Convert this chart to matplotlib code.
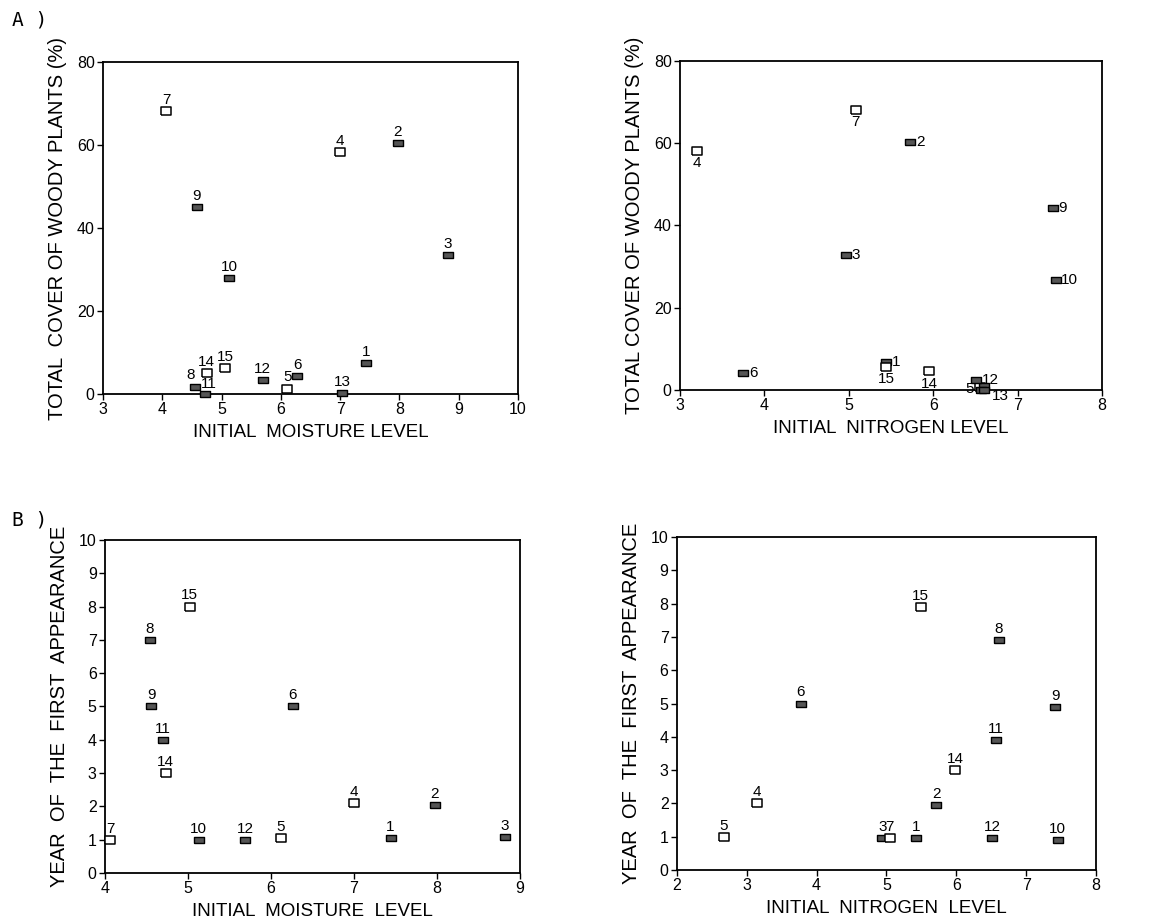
import matplotlib
matplotlib.use("Agg")
import matplotlib.pyplot as plt

plt.rcParams["font.family"] = ["Liberation Sans", "DejaVu Sans"]

# site numbers and whether the marker is open (True) or filled (False)
sites = [1, 2, 3, 4, 5, 6, 7, 8, 9, 10, 11, 12, 13, 14, 15]
open_sites = [4, 5, 7, 14, 15]

# panel A, left: moisture vs cover
moist_a = [7.44, 7.97, 8.82, 7.0, 6.11, 6.28, 4.07, 4.55, 4.58, 5.13, 4.72, 5.69, 7.03, 4.75, 5.06]
cover_a = [7.5, 60.5, 33.5, 58.3, 1.3, 4.3, 68.2, 1.8, 45.0, 28.0, 0.1, 3.4, 0.3, 5.1, 6.3]

# panel A, right: nitrogen vs cover
nitro_a = [5.44, 5.73, 4.97, 3.20, 6.55, 3.75, 5.08, 6.60, 7.42, 7.45, 6.57, 6.51, 6.60, 5.95, 5.44]
cover_n = [6.9, 60.3, 32.8, 58.2, 0.8, 4.1, 68.2, 1.0, 44.3, 26.7, 0.1, 2.4, 0.0, 4.6, 5.7]

# panel B (site 13 never appeared)
sites_b = [1, 2, 3, 4, 5, 6, 7, 8, 9, 10, 11, 12, 14, 15]
moist_b = [7.44, 7.97, 8.82, 7.0, 6.12, 6.26, 4.06, 4.54, 4.56, 5.13, 4.70, 5.69, 4.73, 5.02]
nitro_b = [5.42, 5.71, 4.94, 3.15, 2.67, 3.77, 5.05, 6.61, 7.42, 7.45, 6.57, 6.51, 5.98, 5.49]
year_m = [1.05, 2.05, 1.08, 2.1, 1.05, 5.0, 1.0, 7.0, 5.0, 1.0, 4.0, 1.0, 3.0, 8.0]
year_n = [0.95, 1.95, 0.95, 2.0, 1.0, 5.0, 0.95, 6.9, 4.9, 0.9, 3.9, 0.95, 3.0, 7.9]

# label placement (offset in points) per panel; default is above the marker
above = (0, 3, "center", "bottom")
right = (4, 0, "left", "center")
below = (0, -4, "center", "top")
lab_nitro_a = {1: right, 2: right, 3: right, 4: below, 5: (-7, -2, "center", "center"),
               6: right, 7: below, 8: None, 9: right, 10: right, 11: None,
               12: right, 13: (6, -4, "left", "center"), 14: below, 15: below}
lab_moist_a = {8: (-3, 3, "center", "bottom"), 11: (3, 2, "center", "bottom")}

rect = [(-1.6, -1), (1.6, -1), (1.6, 1), (-1.6, 1), (-1.6, -1)]
rect_open = [(-1.3, -1), (1.3, -1), (1.3, 1), (-1.3, 1), (-1.3, -1)]


def draw(ax, ids, xs, ys, placements=None):
    for s, x, y in zip(ids, xs, ys):
        if s in open_sites:
            ax.plot(x, y, marker=rect_open, ms=7, mfc="white", mec="black", mew=1.1,
                    ls="none", clip_on=False, zorder=3)
        else:
            ax.plot(x, y, marker=rect, ms=6.5, mfc="#555555", mec="black", mew=1.0,
                    ls="none", clip_on=False, zorder=3)
        pl = above
        if placements is not None and s in placements:
            pl = placements[s]
        if pl is None:
            continue
        dx, dy, ha, va = pl
        ax.annotate(str(s), (x, y), xytext=(dx, dy), textcoords="offset points",
                    ha=ha, va=va, fontsize=11, zorder=4)


def style(ax, xlim, ylim, yticks, xlabel, ylabel):
    ax.set_xlim(*xlim)
    ax.set_ylim(*ylim)
    ax.set_yticks(yticks)
    ax.set_xticks(range(xlim[0], xlim[1] + 1))
    ax.tick_params(direction="out", length=4, width=1, labelsize=11.5, pad=2)
    for sp in ax.spines.values():
        sp.set_linewidth(1.3)
    ax.set_xlabel(xlabel, fontsize=13.5, labelpad=5)
    ax.set_ylabel(ylabel, fontsize=14.5, labelpad=7)


fig = plt.figure(figsize=(11.54, 9.23), dpi=100)
ax1 = fig.add_axes([0.0893, 0.5731, 0.3596, 0.3597])
ax2 = fig.add_axes([0.5893, 0.5775, 0.3657, 0.3564])
ax3 = fig.add_axes([0.0910, 0.0542, 0.3596, 0.3608])
ax4 = fig.add_axes([0.5866, 0.0574, 0.3631, 0.3608])

draw(ax1, sites, moist_a, cover_a, lab_moist_a)
style(ax1, (3, 10), (0, 80), [0, 20, 40, 60, 80],
      "INITIAL  MOISTURE LEVEL", "TOTAL  COVER OF WOODY PLANTS (%)")

draw(ax2, sites, nitro_a, cover_n, lab_nitro_a)
style(ax2, (3, 8), (0, 80), [0, 20, 40, 60, 80],
      "INITIAL  NITROGEN LEVEL", "TOTAL COVER OF WOODY PLANTS (%)")

draw(ax3, sites_b, moist_b, year_m)
style(ax3, (4, 9), (0, 10), range(0, 11),
      "INITIAL  MOISTURE  LEVEL", "YEAR  OF  THE  FIRST  APPEARANCE")

draw(ax4, sites_b, nitro_b, year_n)
style(ax4, (2, 8), (0, 10), range(0, 11),
      "INITIAL  NITROGEN  LEVEL", "YEAR  OF  THE  FIRST  APPEARANCE")

fig.text(0.010, 0.978, "A )", family="DejaVu Sans Mono", fontsize=14, va="center")
fig.text(0.010, 0.437, "B )", family="DejaVu Sans Mono", fontsize=14, va="center")

fig.savefig("out.png", dpi=100)
